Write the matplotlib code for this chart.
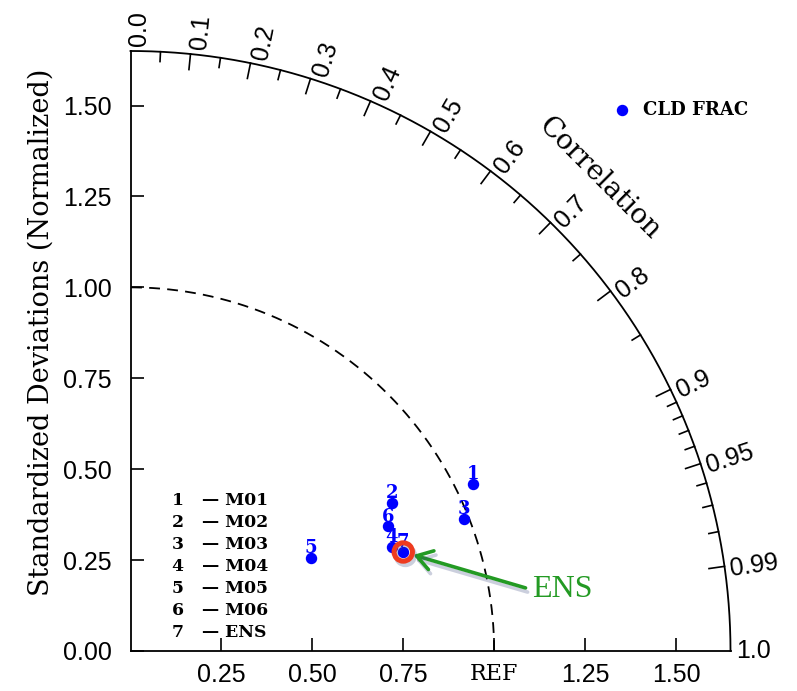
import matplotlib
matplotlib.use("Agg")
import matplotlib.pyplot as plt
import matplotlib.patheffects as pe
import numpy as np

# normalized std dev and correlation for each run
models = ["M01", "M02", "M03", "M04", "M05", "M06", "ENS"]
std_ratio = [1.049, 0.828, 0.987, 0.774, 0.558, 0.787, 0.798]
corr = [0.899, 0.870, 0.930, 0.929, 0.889, 0.900, 0.940]
variable = "CLD FRAC"

std_ticks = [0.0, 0.25, 0.5, 0.75, 1.0, 1.25, 1.5]
std_labels = ["0.00", "0.25", "0.50", "0.75", "REF", "1.25", "1.50"]
corr_major = [0.0, 0.1, 0.2, 0.3, 0.4, 0.5, 0.6, 0.7, 0.8, 0.9, 0.95, 0.99, 1.0]
corr_labels = ["0.0", "0.1", "0.2", "0.3", "0.4", "0.5", "0.6", "0.7", "0.8",
               "0.9", "0.95", "0.99", "1.0"]
corr_minor = [0.05, 0.15, 0.25, 0.35, 0.45, 0.55, 0.65, 0.75, 0.85,
              0.91, 0.92, 0.93, 0.94, 0.96, 0.97, 0.98]
rmax = 1.65

SANS = "Liberation Sans"
SERIF = "DejaVu Serif"
blue = "#0000ff"
green = "#239a23"
ring_red = "#ee3b1f"
px_per_unit = 600 / rmax

fig = plt.figure(figsize=(7.97, 6.91), dpi=100)
ax = fig.add_axes([130.5 / 797, 40 / 691, 600 / 797, 600 / 691])
ax.set_xlim(0, rmax)
ax.set_ylim(0, rmax)
ax.set_aspect("equal")
for s in ["top", "right"]:
    ax.spines[s].set_visible(False)
for s in ["left", "bottom"]:
    ax.spines[s].set_linewidth(1.3)

ax.set_yticks(std_ticks)
ax.set_yticklabels(std_labels[:4] + ["1.00"] + std_labels[5:], fontname=SANS, fontsize=18)
ax.set_xticks(std_ticks[1:])
ax.set_xticklabels(std_labels[1:], fontname=SANS, fontsize=18)
for lab in ax.get_xticklabels():
    if lab.get_text() == "REF":
        lab.set_fontname(SERIF)
        lab.set_fontsize(16)
ax.tick_params(axis="y", direction="in", length=9.5, width=1.2, pad=13.5)
ax.tick_params(axis="x", direction="in", length=9.5, width=1.2, pad=9)

ax.set_ylabel("Standardized Deviations (Normalized)", fontname=SERIF, fontsize=19.5)
ax.yaxis.set_label_coords(-0.127, 0.531)

# outer arc and the REF arc
t = np.linspace(0, np.pi / 2, 400)
ax.plot(rmax * np.cos(t), rmax * np.sin(t), color="k", lw=1.3, clip_on=False)
ax.plot(np.cos(t), np.sin(t), color="k", lw=1.3, ls=(0, (6, 4)), clip_on=False)

# correlation ticks and labels
for c, lab in zip(corr_major, corr_labels):
    th = np.arccos(c)
    if 0 < c < 1:
        ax.plot([rmax * c, (rmax - 0.043) * c],
                [rmax * np.sin(th), (rmax - 0.043) * np.sin(th)],
                color="k", lw=1.2, clip_on=False)
    # labels sit a little clockwise of the radial line, more so near the top
    r = rmax + 0.015
    d = 8.5 * np.sqrt(np.sin(th)) / px_per_unit
    ax.text(r * c + d * np.sin(th), r * np.sin(th) - d * c, lab,
            rotation=np.degrees(th), rotation_mode="anchor", ha="left", va="center",
            fontname=SANS, fontsize=18, clip_on=False)
for c in corr_minor:
    th = np.arccos(c)
    ax.plot([rmax * c, (rmax - 0.027) * c],
            [rmax * np.sin(th), (rmax - 0.027) * np.sin(th)],
            color="k", lw=1.2, clip_on=False)

ang = np.radians(45.2)
ax.text(1.831 * np.cos(ang), 1.831 * np.sin(ang), "Correlation", rotation=-45,
        rotation_mode="anchor", ha="center", va="center",
        fontname=SERIF, fontsize=20, clip_on=False)

# model points
std_ratio = np.array(std_ratio)
corr = np.array(corr)
px = std_ratio * corr
py = std_ratio * np.sqrt(1 - corr ** 2)
pts = ax.scatter(px, py, s=52, color=blue, zorder=5, clip_on=False, label=variable)
for i in range(len(models)):
    ax.annotate(str(i + 1), (px[i], py[i]), xytext=(0, 0.5), textcoords="offset points",
                ha="center", va="bottom", color=blue, fontname=SERIF, fontsize=13,
                fontweight="bold", zorder=6)

# model key
for i, name in enumerate(models):
    ax.text(0.114, 0.415 - i * 0.0605, "%d   \u2014 %s" % (i + 1, name),
            ha="left", va="center", fontname=SERIF, fontsize=12.4, fontweight="bold")

ax.legend(handles=[pts], labels=[variable], loc="center left",
          bbox_to_anchor=(0.804, 0.902), frameon=False, borderpad=0,
          borderaxespad=0, handlelength=1.0, handletextpad=0.65,
          prop={"family": SERIF, "size": 13, "weight": "bold"})

# highlight ensemble mean
ens = models.index("ENS")
ax.scatter([px[ens]], [py[ens]], s=175, facecolors="none", edgecolors=ring_red,
           linewidths=3.6, zorder=7, clip_on=False,
           path_effects=[pe.SimpleLineShadow(offset=(1.5, -2.5), shadow_color="#33407a",
                                             alpha=0.25), pe.Normal()])
ax.annotate("ENS", xy=(px[ens], py[ens]), xytext=(1.105, 0.168),
            ha="left", va="center", color=green, fontname="Liberation Serif",
            fontsize=23,
            arrowprops=dict(arrowstyle="->,head_length=0.55,head_width=0.35",
                            color=green, lw=2.6, mutation_scale=20,
                            relpos=(0, 0.5), shrinkA=3, shrinkB=7.5,
                            path_effects=[pe.SimpleLineShadow(offset=(1.5, -3),
                                                              shadow_color="#33407a",
                                                              alpha=0.25),
                                          pe.Normal()]))

fig.savefig("out.png", dpi=100)
